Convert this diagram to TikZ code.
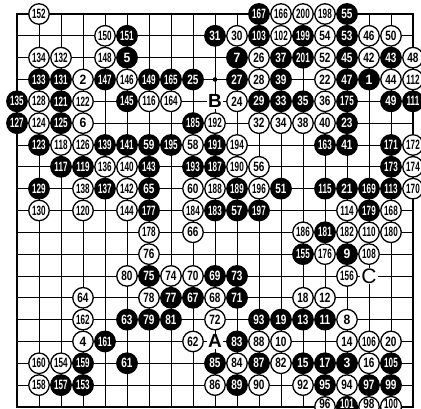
\documentclass[tikz,border=0pt]{standalone}
\usepackage{fontspec}
\setmainfont{Liberation Sans}
\usepackage{graphicx}
\usepackage{tikz}
\newcommand{\stonenum}[1]{%
  \ifnum#1>99 \scalebox{0.6}[1]{#1}%
  \else\ifnum#1>9 \scalebox{0.74}[1]{#1}%
  \else \scalebox{0.9}[1]{#1}\fi\fi}

\begin{document}
\begin{tikzpicture}[x=22pt, y=-21.83pt,
  stone/.style={circle, draw=black, line width=1.3pt, minimum size=20.5pt,
    inner sep=0pt, font=\bfseries\fontsize{13.5}{13.5}\selectfont},
  wstone/.style={stone, fill=white, text=black},
  bstone/.style={stone, fill=black, text=white},
  pointlabel/.style={fill=white, inner sep=1pt,
    font=\bfseries\fontsize{19}{19}\selectfont}]
  \useasboundingbox (-0.7727,-0.6413) rectangle (18.364,18.049);

  % Board lines
  \foreach \i in {1,...,17} {
    \draw[line width=0.7pt] (\i,0) -- (\i,18);
    \draw[line width=0.7pt] (0,\i) -- (18,\i);
  }
  \draw[line width=2pt] (0,0) rectangle (18,18);

  % Star points
  \foreach \i in {3,9,15}
    \foreach \j in {3,9,15}
      \fill (\i,\j) circle (2.3pt);

  % Marked points
  \node[pointlabel] (A) at (9,15) {A};
  \node[pointlabel] (B) at (9,4) {B};
  \node[pointlabel, font=\fontsize{21}{21}\selectfont] (C) at (16,12) {C};

  % White stones
  \foreach \c/\r/\n in {3/3/2, 3/15/4, 3/5/6, 15/14/8, 12/15/10, 14/13/12,
      15/15/14, 16/16/16, 13/13/18, 17/15/20, 14/3/22, 10/4/24, 11/2/26,
      11/3/28, 10/1/30, 11/5/32, 12/5/34, 14/4/36, 13/5/38, 14/5/40,
      16/2/42, 17/3/44, 16/1/46, 18/2/48, 17/1/50, 14/2/52, 14/1/54,
      11/7/56, 8/6/58, 8/8/60, 8/15/62, 3/13/64, 8/10/66, 9/13/68,
      8/12/70, 9/14/72, 7/12/74, 6/11/76, 6/13/78, 5/12/80, 12/16/82,
      10/16/84, 9/17/86, 11/15/88, 11/17/90, 13/17/92, 15/17/94,
      12/1/102, 16/15/106, 16/11/108, 16/10/110,
      18/3/112, 15/9/114, 6/4/116, 2/6/118, 3/9/120, 3/4/122, 1/5/124,
      3/6/126, 1/4/128, 1/9/130, 2/2/132, 1/2/134, 4/7/136, 3/8/138,
      5/7/140, 5/8/142, 5/9/144, 5/3/146, 4/2/148, 4/1/150, 1/0/152,
      2/16/154, 15/12/156, 1/17/158, 1/16/160, 3/14/162, 7/4/164,
      12/0/166, 17/9/168, 18/8/170, 18/6/172, 18/7/174, 14/11/176,
      6/10/178, 17/10/180, 15/10/182, 8/9/184, 13/10/186, 9/8/188,
      10/7/190, 9/5/192, 10/6/194, 11/8/196, 14/0/198, 13/0/200}
    \node[wstone] (s\n) at (\c,\r) {\stonenum{\n}};

  % Black stones
  \foreach \c/\r/\n in {16/3/1, 15/16/3, 5/2/5, 10/2/7, 15/11/9, 14/14/11,
      13/14/13, 13/16/15, 14/16/17, 12/14/19, 15/8/21, 15/5/23, 8/3/25,
      10/3/27, 11/4/29, 9/1/31, 12/4/33, 13/4/35, 12/2/37, 12/3/39,
      15/6/41, 17/2/43, 15/2/45, 15/3/47, 17/4/49, 12/8/51, 15/1/53,
      15/0/55, 10/9/57, 6/6/59, 5/16/61, 5/14/63, 6/8/65, 8/13/67,
      9/12/69, 10/13/71, 10/12/73, 6/12/75, 7/13/77, 6/14/79, 7/14/81,
      10/15/83, 9/16/85, 11/16/87, 10/17/89, 11/14/93, 14/17/95,
      16/17/97, 17/17/99, 11/1/103, 17/16/105, 18/4/111,
      17/8/113, 14/8/115, 2/7/117, 3/7/119, 2/4/121, 1/6/123, 2/5/125,
      0/5/127, 1/8/129, 2/3/131, 1/3/133, 0/4/135, 4/8/137, 4/6/139,
      5/6/141, 6/7/143, 5/4/145, 4/3/147, 6/3/149, 5/1/151, 3/17/153,
      13/11/155, 2/17/157, 3/16/159, 4/15/161, 14/6/163, 7/3/165,
      11/0/167, 16/8/169, 17/6/171, 17/7/173, 15/4/175, 6/9/177,
      16/9/179, 14/10/181, 9/9/183, 8/5/185, 9/7/187, 10/8/189, 9/6/191,
      8/7/193, 7/6/195, 11/9/197, 13/1/199, 13/2/201}
    \node[bstone] (s\n) at (\c,\r) {\stonenum{\n}};

  % Bottom edge stones (numbers raised to stay on the page)
  \foreach \c/\n/\s in {14/96/wstone, 15/101/bstone, 16/98/wstone, 17/100/wstone}
    \node[\s] (s\n) at (\c,18) {\raisebox{6.5pt}{\stonenum{\n}}};
\end{tikzpicture}
\end{document}
